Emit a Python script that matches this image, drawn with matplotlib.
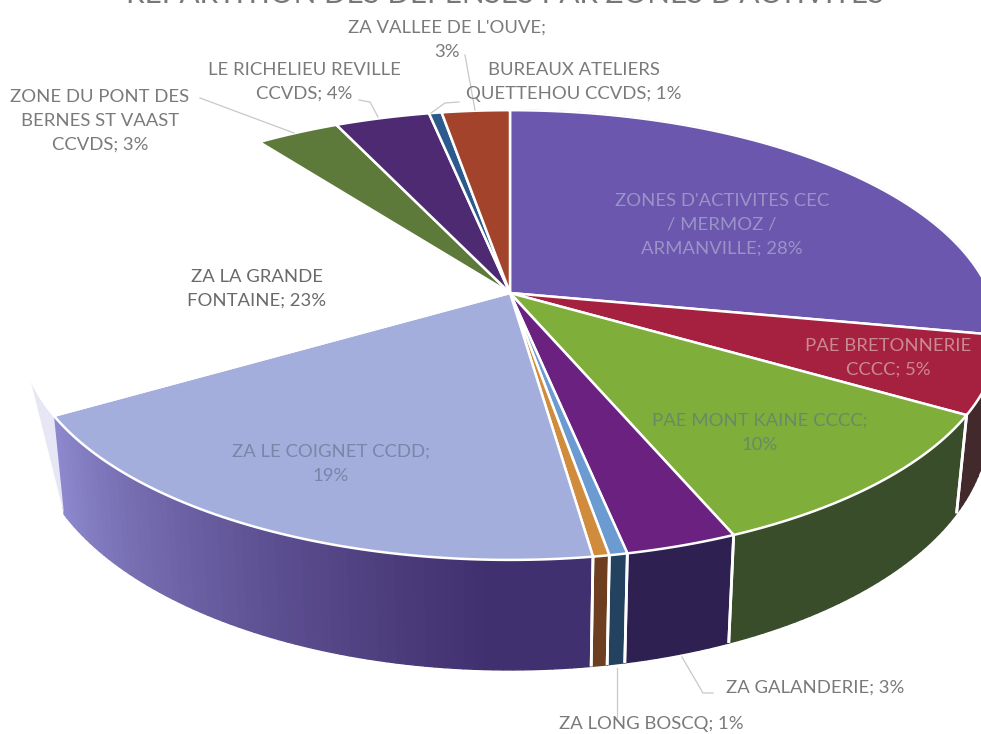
"""
Tilted 3D pie of spending per activity zone, drawn as projected polygons.
"""
import numpy as np
import matplotlib
matplotlib.use("Agg")
import matplotlib.pyplot as plt

# Chart data (shares, clockwise from 12 o'clock)
TITLE = "REPARTITION DES DEPENSES PAR ZONES D'ACTIVITES"
shares = [28.0, 5.5, 10.2, 3.1, 0.5, 0.45, 18.7, 23.3, 3.3, 3.75, 0.5, 2.7]
labels = [
    "ZONES D'ACTIVITES CEC\n/ MERMOZ /\nARMANVILLE; 28%",
    "PAE BRETONNERIE\nCCCC; 5%",
    "PAE MONT KAINE CCCC;\n10%",
    "ZA GALANDERIE; 3%",
    "ZA LONG BOSCQ; 1%",
    "",
    "ZA LE COIGNET CCDD;\n19%",
    "ZA LA GRANDE\nFONTAINE; 23%",
    "ZONE DU PONT DES\nBERNES ST VAAST\nCCVDS; 3%",
    "LE RICHELIEU REVILLE\nCCVDS; 4%",
    "BUREAUX ATELIERS\nQUETTEHOU CCVDS; 1%",
    "ZA VALLEE DE L'OUVE;\n3%",
]

top_colors = ["#6b57ad", "#a6203f", "#7fae3a", "#6a2180", "#6c9bd2", "#d08b3c",
              "#a3aedc", "#ffffff", "#5d7a3a", "#4d2a72", "#2d5a8c", "#a3432c"]
wall_colors = ["#3f2f70", "#42292c", "#3a4d2b", "#2e2152", "#22425f", "#6d3f20",
               "#41306f", "#e6e6f4", "#3a4d2b", "#2e2152", "#22425f", "#6d3f20"]
WALL_LIGHT = "#8f8ad0"   # left end of the big lavender wall

# label centre, text colour (same order as labels)
label_pos = [(722, 225), (888, 358), (760, 433), (815, 688), (651, 724), None,
             (331, 464), (257, 289), (100, 121), (304, 82), (574, 82), (447, 40)]
label_clr = ["#9a93c8", "#c98a94", "#6a8a66", "#7a7a7a", "#7a7a7a", None,
             "#7c84a8", "#6a6a6a", "#7a7a7a", "#7a7a7a", "#7a7a7a", "#7a7a7a"]

leaders = [
    [(713, 693), (703, 693), (682, 657)],
    [(617, 717), (617, 668)],
    [(200, 98), (294, 133)],
    [(359, 100), (370, 102), (378, 117)],
    [(459, 102), (445, 103), (431, 113)],
    [(465, 55), (475, 110)],
]

# Projection constants (pixels)
CX, CY = 510, 293
RX, RY = 480, 217
PERSP = 0.187


def top_xy(theta):
    u, v = np.sin(theta), np.cos(theta)
    w = 1 + PERSP * v
    return CX + RX * u / w, CY - RY * v / w


def bottom_xy(theta):
    x, y = top_xy(theta)
    return CX + (x - CX) * 0.978, CY + (y - CY) * 1.081 + 88.4


def mix(c0, c1, t):
    a = np.array(matplotlib.colors.to_rgb(c0))
    b = np.array(matplotlib.colors.to_rgb(c1))
    return tuple(a + (b - a) * t)


plt.rcParams["font.family"] = ["Lato", "DejaVu Sans"]
fig = plt.figure(figsize=(9.81, 7.34), dpi=100, facecolor="white")
ax = fig.add_axes([0, 0, 1, 1])
ax.set_xlim(0, 981)
ax.set_ylim(734, 0)
ax.axis("off")

edges = np.radians(np.concatenate([[0], np.cumsum(shares)]) * 360 / sum(shares))

# Walls first, strip by strip so the light can fade around the rim
for i, clr in enumerate(wall_colors):
    a0, a1 = edges[i], edges[i + 1]
    if a0 > np.radians(245) or a1 < np.radians(90):
        continue
    if top_colors[i] == "#ffffff":
        # only a pale sliver of the blank slice shows
        x0, y0 = top_xy(a0)
        x1, y1 = top_xy(a0 + np.radians(10))
        x2, y2 = bottom_xy(a0)
        ax.fill([x0, x1, x2], [y0, y1, y2], color=clr, lw=0, zorder=1)
        continue
    steps = np.linspace(a0, a1, max(2, int((a1 - a0) * 60)))
    for s0, s1 in zip(steps[:-1], steps[1:]):
        xt0, yt0 = top_xy(s0)
        xt1, yt1 = top_xy(s1)
        xb0, yb0 = bottom_xy(s0)
        xb1, yb1 = bottom_xy(s1)
        # the big lavender wall gets lighter towards the left
        mid = np.degrees((s0 + s1) / 2)
        c = clr
        if i == 6:
            c = mix(clr, WALL_LIGHT, np.clip((mid - 182) / 58, 0, 1) ** 1.1)
        ax.fill([xt0, xt1, xb1, xb0], [yt0, yt1, yb1, yb0], facecolor=c,
                edgecolor=c, lw=1.0, zorder=1)
    # white divider down the wall
    for e in (a0, a1):
        xt, yt = top_xy(e)
        xb, yb = bottom_xy(e)
        if np.degrees(e) > 115 and np.degrees(e) < 235:
            ax.plot([xt, xb], [yt, yb], color="white", lw=2, zorder=2,
                    solid_capstyle="butt")

# Top faces
for i, clr in enumerate(top_colors):
    th = np.linspace(edges[i], edges[i + 1], 80)
    x, y = top_xy(th)
    ax.fill(np.r_[CX, x], np.r_[CY, y], facecolor=clr, edgecolor="white",
            lw=1.8, joinstyle="round", zorder=3)

# Leader lines
for pts in leaders:
    xs, ys = zip(*pts)
    ax.plot(xs, ys, color="#c8c8c8", lw=0.9, zorder=4)

# Texts
for txt, pos, clr in zip(labels, label_pos, label_clr):
    if pos is None:
        continue
    ax.text(pos[0], pos[1], txt, color=clr, fontsize=13.3, ha="center",
            va="center", linespacing=1.62, zorder=5)

ax.text(505, 3, TITLE, color="#777777", fontsize=21.3, ha="center",
        va="baseline", zorder=5, clip_on=False)

fig.savefig("out.png", dpi=100, facecolor="white")
